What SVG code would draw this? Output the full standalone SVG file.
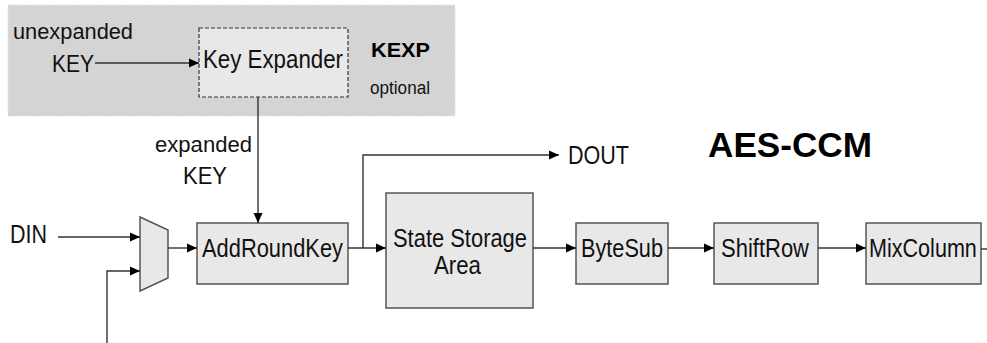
<svg xmlns="http://www.w3.org/2000/svg" width="987" height="343" viewBox="0 0 987 343">
<defs>
<marker id="arr" viewBox="0 0 10 10" refX="10" refY="5" markerWidth="10" markerHeight="10" markerUnits="userSpaceOnUse" orient="auto">
<path d="M0,0.5 L10,5 L0,9.5 Z" fill="#000"/>
</marker>
<style>
.t{font-family:"Liberation Sans",Arial,sans-serif;fill:#111;}
.b{font-family:"Liberation Sans",Arial,sans-serif;font-weight:bold;fill:#000;}
.box{fill:#e8e8e8;stroke:#555;stroke-width:1.5;}
.ln{fill:none;stroke:#333;stroke-width:1.4;}
</style>
</defs>
<rect width="987" height="343" fill="#fff"/>
<g id="kexp-region">
<rect x="8" y="5" width="447" height="111" fill="#d4d4d4" stroke="#e2e2e2" stroke-width="1" stroke-dasharray="4 2"/>
<text class="b" x="371" y="57" font-size="19.5" textLength="59" lengthAdjust="spacingAndGlyphs">KEXP</text>
<text class="t" x="370" y="94" font-size="18" textLength="60" lengthAdjust="spacingAndGlyphs">optional</text>
</g>
<g id="title">
<text class="b" x="708" y="157" font-size="35" textLength="164" lengthAdjust="spacingAndGlyphs">AES-CCM</text>
</g>
<g id="key-in">
<text class="t" x="13" y="39" font-size="22" textLength="120" lengthAdjust="spacingAndGlyphs">unexpanded</text>
<text class="t" x="52" y="72" font-size="23.5" textLength="42" lengthAdjust="spacingAndGlyphs">KEY</text>
</g>
<g id="key-expander">
<rect x="199" y="28" width="149" height="69" fill="#e8e8e8" stroke="#333" stroke-width="1.2" stroke-dasharray="4 2"/>
<text class="t" x="203" y="68" font-size="25" textLength="140" lengthAdjust="spacingAndGlyphs">Key Expander</text>
</g>
<g id="expanded-key-label">
<text class="t" x="155" y="152" font-size="22" textLength="97" lengthAdjust="spacingAndGlyphs">expanded</text>
<text class="t" x="183" y="184" font-size="23.5" textLength="44" lengthAdjust="spacingAndGlyphs">KEY</text>
</g>
<g id="din">
<text class="t" x="10" y="243" font-size="25" textLength="37" lengthAdjust="spacingAndGlyphs">DIN</text>
</g>
<g id="mux">
<path d="M140,217 L168,230 L168,278 L140,291 Z" fill="#e8e8e8" stroke="#555" stroke-width="1.5"/>
</g>
<g id="addroundkey">
<rect class="box" x="197" y="223" width="151" height="61"/>
<text class="t" x="202" y="257" font-size="25" textLength="141" lengthAdjust="spacingAndGlyphs">AddRoundKey</text>
</g>
<g id="state-storage">
<rect class="box" x="386" y="193" width="147" height="115"/>
<text class="t" x="393" y="247" font-size="25" textLength="134" lengthAdjust="spacingAndGlyphs">State Storage</text>
<text class="t" x="434" y="274" font-size="25" textLength="47" lengthAdjust="spacingAndGlyphs">Area</text>
</g>
<g id="bytesub">
<rect class="box" x="576" y="223" width="92" height="61"/>
<text class="t" x="581" y="257" font-size="26" textLength="82" lengthAdjust="spacingAndGlyphs">ByteSub</text>
</g>
<g id="shiftrow">
<rect class="box" x="714" y="223" width="104" height="61"/>
<text class="t" x="721" y="257" font-size="26" textLength="88" lengthAdjust="spacingAndGlyphs">ShiftRow</text>
</g>
<g id="mixcolumn">
<rect class="box" x="866" y="223" width="115" height="61"/>
<text class="t" transform="translate(869,257) scale(0.83,1)" x="0" y="0" font-size="26">MixColumn</text>
</g>
<g id="dout">
<text class="t" x="568" y="164" font-size="25" textLength="61" lengthAdjust="spacingAndGlyphs">DOUT</text>
</g>
<g id="connectors">
<path class="ln" d="M95,63 L199,63" marker-end="url(#arr)"/>
<path class="ln" d="M258,97 L258,223" marker-end="url(#arr)"/>
<path class="ln" d="M58,237 L140,237" marker-end="url(#arr)"/>
<path class="ln" d="M107,343 L107,271 L140,271" marker-end="url(#arr)"/>
<path class="ln" d="M168,248 L197,248" marker-end="url(#arr)"/>
<path class="ln" d="M348,248 L386,248" marker-end="url(#arr)"/>
<path class="ln" d="M363,248 L363,155 L559,155" marker-end="url(#arr)"/>
<path class="ln" d="M533,248 L576,248" marker-end="url(#arr)"/>
<path class="ln" d="M668,248 L714,248" marker-end="url(#arr)"/>
<path class="ln" d="M818,248 L866,248" marker-end="url(#arr)"/>
<path class="ln" d="M981,249 L987,249"/>
</g>
</svg>
